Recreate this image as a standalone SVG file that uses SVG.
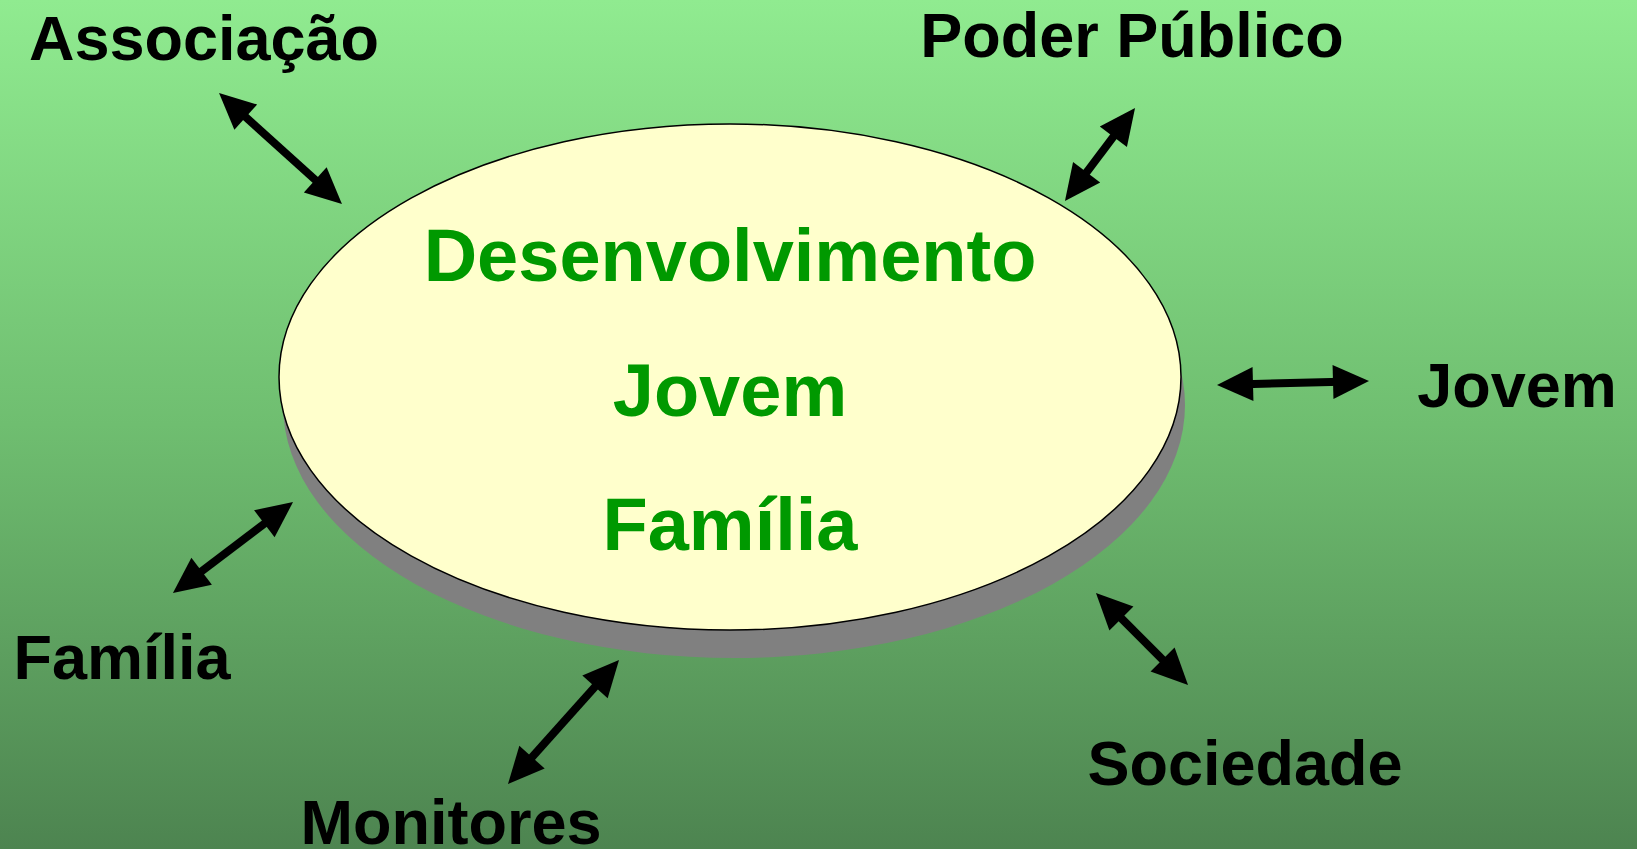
<svg xmlns="http://www.w3.org/2000/svg" width="1637" height="849" viewBox="0 0 1637 849">
  <defs>
    <linearGradient id="bg" x1="0" y1="0" x2="0" y2="1">
      <stop offset="0" stop-color="#90EB90"/>
      <stop offset="0.5" stop-color="#6FBE70"/>
      <stop offset="1" stop-color="#4D8450"/>
    </linearGradient>
    <marker id="head" markerUnits="userSpaceOnUse" markerWidth="40" markerHeight="40" viewBox="0 -20 40 40" refX="18" refY="0" orient="auto-start-reverse" overflow="visible">
      <path d="M0,-17 L36,0 L0,17 z" fill="#000"/>
    </marker>
    <style>
      .lbl { font-family: "Liberation Sans", Arial, sans-serif; font-weight: bold; font-size: 63px; fill: #000; text-anchor: middle; }
      .ctr { font-family: "Liberation Sans", Arial, sans-serif; font-weight: bold; font-size: 74px; fill: #009900; text-anchor: middle; }
      .arr { stroke: #000; stroke-width: 8; fill: none; marker-start: url(#head); marker-end: url(#head); }
    </style>
  </defs>
  <rect x="0" y="0" width="1637" height="849" fill="url(#bg)"/>

  <g id="center">
    <ellipse cx="734" cy="405" rx="451" ry="253" fill="#808080"/>
    <ellipse cx="730" cy="377" rx="451" ry="253" fill="#FFFFCC" stroke="#000" stroke-width="1.5"/>
    <text class="ctr" x="730" y="281">Desenvolvimento</text>
    <text class="ctr" x="730" y="416">Jovem</text>
    <text class="ctr" x="730" y="550">Família</text>
  </g>

  <g id="associacao"><text class="lbl" x="204" y="60">Associação</text></g>
  <g id="poder-publico"><text class="lbl" x="1132" y="57">Poder Público</text></g>
  <g id="jovem"><text class="lbl" x="1517" y="407">Jovem</text></g>
  <g id="familia"><text class="lbl" x="122" y="679">Família</text></g>
  <g id="monitores"><text class="lbl" x="451" y="844">Monitores</text></g>
  <g id="sociedade"><text class="lbl" x="1245" y="785">Sociedade</text></g>

  <g id="connectors">
    <line class="arr" x1="232.4" y1="105.1" x2="328.6" y2="191.9"/>
    <line class="arr" x1="1124.2" y1="122.4" x2="1075.8" y2="186.6"/>
    <line class="arr" x1="1235" y1="384.5" x2="1351" y2="381.5"/>
    <line class="arr" x1="278.7" y1="512.9" x2="187.3" y2="582.1"/>
    <line class="arr" x1="607" y1="673.4" x2="520" y2="770.6"/>
    <line class="arr" x1="1108.7" y1="605.7" x2="1175.3" y2="672.3"/>
  </g>
</svg>
